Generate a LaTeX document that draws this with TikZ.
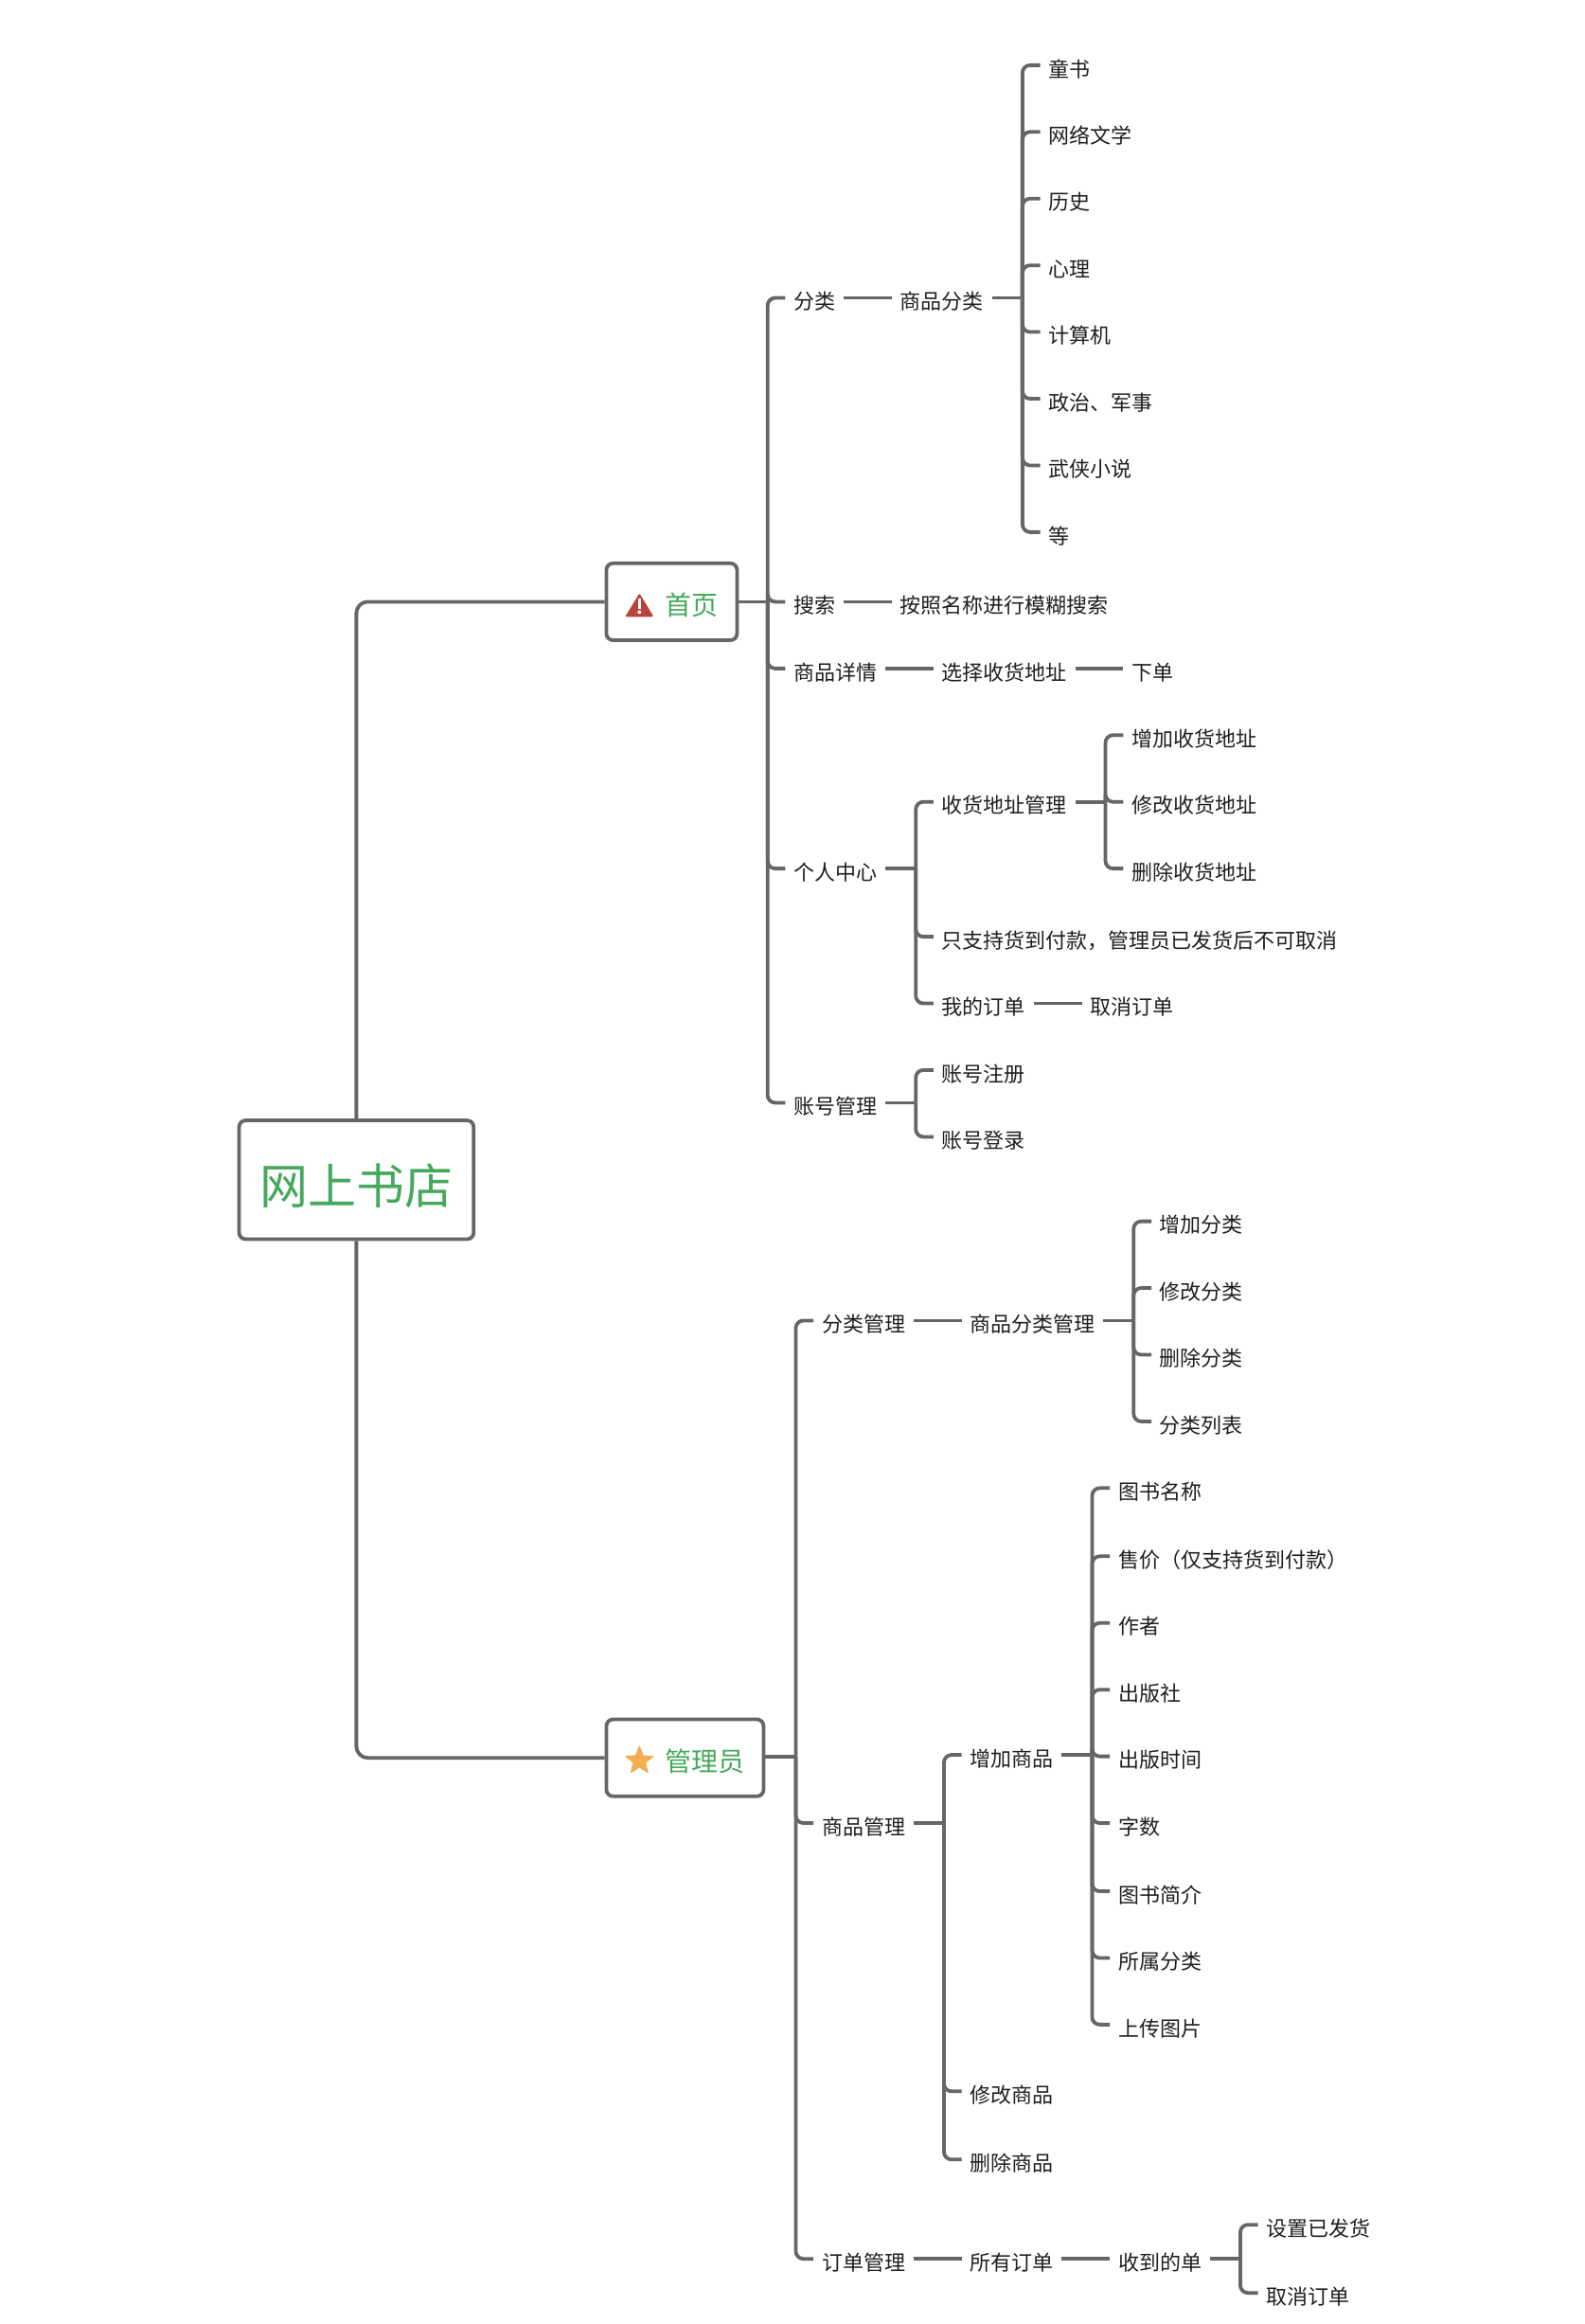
\documentclass[tikz,border=0pt]{standalone}
\usepackage{fontspec}
\setmainfont{Noto Sans CJK SC}
\usetikzlibrary{shapes.geometric}
\definecolor{linegray}{HTML}{666666}
\definecolor{titlegreen}{HTML}{45A85C}
\definecolor{warnred}{HTML}{B8433A}
\definecolor{staramber}{HTML}{F4AC55}
\tikzset{
  lab/.style={anchor=west,inner xsep=4.2pt,inner ysep=0pt,font=\fontsize{11}{12}\selectfont,text=black!88,text height=12.2pt,text depth=0pt},
  conn/.style={draw=linegray,line width=1.9pt,rounded corners=4pt},
  boxnode/.style={draw=linegray,line width=1.9pt,rounded corners=3.5pt,fill=white,text=titlegreen,inner xsep=0pt,inner ysep=0pt},
}
\newcommand{\kid}[3]{\node[lab] (#1) at (#2) {#3};}
\begin{document}
\begin{tikzpicture}[x=0.7825pt,y=-0.7825pt]
\useasboundingbox (0,0) rectangle (1069.6,1568);
\fill[white] (0,0) rectangle (1069.6,1568);

% main boxes
\node[boxnode,minimum width=123.9pt,minimum height=62.7pt,font=\fontsize{25.5}{28}\selectfont,text height=25.8pt,text depth=0pt] (root) at (240.5,796) {网上书店};
\node[boxnode,anchor=west,minimum height=40.6pt,font=\fontsize{14}{16}\selectfont,text height=14.2pt,text depth=-0.5pt] (home) at (408,406) {\hspace*{31pt}首页\hspace*{10pt}};
\node[boxnode,anchor=west,minimum height=40.6pt,font=\fontsize{14}{16}\selectfont,text height=14.2pt,text depth=-0.5pt] (admin) at (408,1186) {\hspace*{31pt}管理员\hspace*{10pt}};
\draw[conn,rounded corners=6pt] (root.north) |- (home.west);
\draw[conn,rounded corners=6pt] (root.south) |- (admin.west);

% icons
\fill[warnred,draw=warnred,line width=1pt,line join=round] (431.5,401.5) -- (440,415.5) -- (423,415.5) -- cycle;
\fill[white] (430.6,403.5) rectangle (432.4,411);
\fill[white] (431.5,413) circle (1pt);
\node[star,star points=5,star point ratio=2.3,fill=staramber,draw=staramber,line width=0.6pt,line join=round,minimum size=15pt,inner sep=0pt] (staricon) at (431.5,1188) {};

% home branch
\coordinate (tHome) at (518,406);
\draw[conn] (home.east) -- (tHome);
\kid{fenlei}{530,201}{分类}
\kid{sousuo}{530,406}{搜索}
\kid{xiangqing}{530,451}{商品详情}
\kid{geren}{530,586}{个人中心}
\kid{zhanghao}{530,744}{账号管理}
\foreach \c in {fenlei,sousuo,xiangqing,geren,zhanghao} \draw[conn] (tHome) |- (\c.west);

% categories
\kid{spfl}{602,201}{商品分类}
\draw[conn] (fenlei.east) -- (spfl.west);
\coordinate (tCat) at (690,201);
\draw[conn] (spfl.east) -- (tCat);
\kid{c1}{702,44}{童书}
\kid{c2}{702,89}{网络文学}
\kid{c3}{702,134}{历史}
\kid{c4}{702,179}{心理}
\kid{c5}{702,224}{计算机}
\kid{c6}{702,269}{政治、军事}
\kid{c7}{702,314}{武侠小说}
\kid{c8}{702,359}{等}
\foreach \c in {c1,c2,c3,c4,c5,c6,c7,c8} \draw[conn] (tCat) |- (\c.west);

% search
\kid{mohu}{602,406}{按照名称进行模糊搜索}
\draw[conn] (sousuo.east) -- (mohu.west);

% detail
\kid{xzdz}{630,451}{选择收货地址}
\kid{xiadan}{758,451}{下单}
\draw[conn] (xiangqing.east) -- (xzdz.west);
\draw[conn] (xzdz.east) -- (xiadan.west);

% personal centre
\coordinate (tGeren) at (618,586);
\draw[conn] (geren.east) -- (tGeren);
\kid{dzgl}{630,541}{收货地址管理}
\kid{zhichi}{630,632}{只支持货到付款，管理员已发货后不可取消}
\kid{wodd}{630,677}{我的订单}
\foreach \c in {dzgl,zhichi,wodd} \draw[conn] (tGeren) |- (\c.west);
\coordinate (tDz) at (746,541);
\draw[conn] (dzgl.east) -- (tDz);
\kid{dz1}{758,496}{增加收货地址}
\kid{dz2}{758,541}{修改收货地址}
\kid{dz3}{758,586}{删除收货地址}
\foreach \c in {dz1,dz2,dz3} \draw[conn] (tDz) |- (\c.west);
\kid{qxdd}{730,677}{取消订单}
\draw[conn] (wodd.east) -- (qxdd.west);

% account
\coordinate (tZh) at (618,744);
\draw[conn] (zhanghao.east) -- (tZh);
\kid{zc}{630,722}{账号注册}
\kid{dl}{630,767}{账号登录}
\foreach \c in {zc,dl} \draw[conn] (tZh) |- (\c.west);

% admin branch
\coordinate (tAdmin) at (537,1185);
\draw[conn] (admin.east |- tAdmin) -- (tAdmin);
\kid{flgl}{549,891}{分类管理}
\kid{spgl}{549,1230}{商品管理}
\kid{ddgl}{549,1524}{订单管理}
\foreach \c in {flgl,spgl,ddgl} \draw[conn] (tAdmin) |- (\c.west);

\kid{spflgl}{649,891}{商品分类管理}
\draw[conn] (flgl.east) -- (spflgl.west);
\coordinate (tFl) at (765,891);
\draw[conn] (spflgl.east) -- (tFl);
\kid{f1}{777,824}{增加分类}
\kid{f2}{777,869}{修改分类}
\kid{f3}{777,914}{删除分类}
\kid{f4}{777,959}{分类列表}
\foreach \c in {f1,f2,f3,f4} \draw[conn] (tFl) |- (\c.west);

\coordinate (tSp) at (637,1230);
\draw[conn] (spgl.east) -- (tSp);
\kid{zjsp}{649,1184}{增加商品}
\kid{xgsp}{649,1411}{修改商品}
\kid{scsp}{649,1457}{删除商品}
\foreach \c in {zjsp,xgsp,scsp} \draw[conn] (tSp) |- (\c.west);
\coordinate (tZj) at (737,1184);
\draw[conn] (zjsp.east) -- (tZj);
\kid{b1}{749,1004}{图书名称}
\kid{b2}{749,1050}{售价（仅支持货到付款）}
\kid{b3}{749,1095}{作者}
\kid{b4}{749,1140}{出版社}
\kid{b5}{749,1185}{出版时间}
\kid{b6}{749,1230}{字数}
\kid{b7}{749,1276}{图书简介}
\kid{b8}{749,1321}{所属分类}
\kid{b9}{749,1366}{上传图片}
\foreach \c in {b1,b2,b3,b4,b5,b6,b7,b8,b9} \draw[conn] (tZj) |- (\c.west);

\kid{sydd}{649,1524}{所有订单}
\kid{sddd}{749,1524}{收到的单}
\draw[conn] (ddgl.east) -- (sydd.west);
\draw[conn] (sydd.east) -- (sddd.west);
\coordinate (tSd) at (837,1524);
\draw[conn] (sddd.east) -- (tSd);
\kid{fh}{849,1501}{设置已发货}
\kid{qx}{849,1547}{取消订单}
\foreach \c in {fh,qx} \draw[conn] (tSd) |- (\c.west);
\end{tikzpicture}
\end{document}
